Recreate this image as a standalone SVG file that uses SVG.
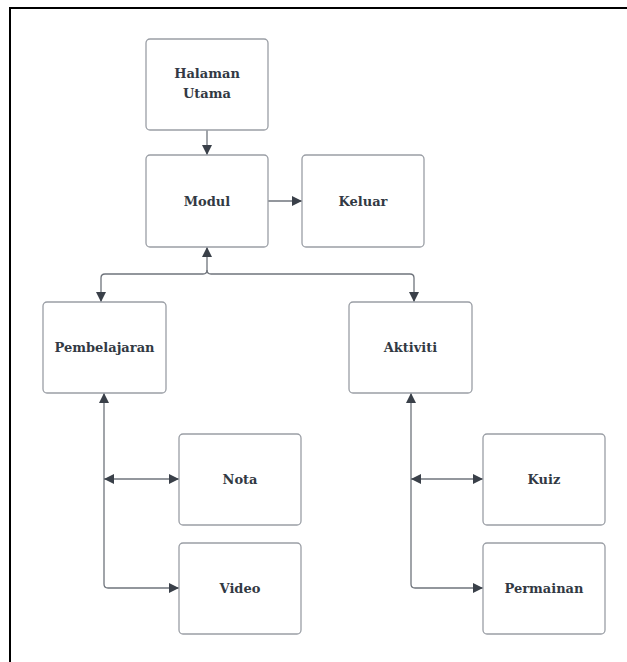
<svg xmlns="http://www.w3.org/2000/svg" width="627" height="662" viewBox="0 0 627 662">
<style>
.box{fill:#ffffff;stroke:#9a9ea5;stroke-width:1.3}
.lbl{font-family:"DejaVu Serif",serif;font-weight:bold;font-size:13px;fill:#323943;text-anchor:middle;dominant-baseline:central}
.con{fill:none;stroke:#6f747c;stroke-width:1.3}
</style>
<defs>
<marker id="ah" viewBox="0 0 10 10" refX="10" refY="5" markerWidth="10" markerHeight="10" markerUnits="userSpaceOnUse" orient="auto-start-reverse">
<path d="M0,0 L10,5 L0,10 Z" fill="#3a4049"/>
</marker>
</defs>
<rect width="627" height="662" fill="#ffffff"/>
<path d="M10,662 V8 H627" fill="none" stroke="#000000" stroke-width="2"/>
<g id="connectors">
<path class="con" d="M207,130 V155" marker-end="url(#ah)"/>
<path class="con" d="M268,201 H302" marker-end="url(#ah)"/>
<path class="con" d="M207,247 V270 Q207,274 203,274 H105 Q101,274 101,278 V302" marker-start="url(#ah)" marker-end="url(#ah)"/>
<path class="con" d="M207,270 Q207,274 211,274 H410 Q414,274 414,278 V302" marker-end="url(#ah)"/>
<path class="con" d="M104,393 V584 Q104,588 108,588 H179" marker-start="url(#ah)" marker-end="url(#ah)"/>
<path class="con" d="M104,479 H179" marker-start="url(#ah)" marker-end="url(#ah)"/>
<path class="con" d="M411,393 V584 Q411,588 415,588 H483" marker-start="url(#ah)" marker-end="url(#ah)"/>
<path class="con" d="M411,479 H483" marker-start="url(#ah)" marker-end="url(#ah)"/>
</g>
<g id="halaman-utama"><rect class="box" x="146" y="39" width="122" height="91" rx="4"/><text class="lbl" x="207" y="73">Halaman</text><text class="lbl" x="207" y="93">Utama</text></g>
<g id="modul"><rect class="box" x="146" y="155" width="122" height="92" rx="4"/><text class="lbl" x="207" y="201">Modul</text></g>
<g id="keluar"><rect class="box" x="302" y="155" width="122" height="92" rx="4"/><text class="lbl" x="363" y="201">Keluar</text></g>
<g id="pembelajaran"><rect class="box" x="43" y="302" width="123" height="91" rx="4"/><text class="lbl" x="104.5" y="347">Pembelajaran</text></g>
<g id="aktiviti"><rect class="box" x="349" y="302" width="123" height="91" rx="4"/><text class="lbl" x="410.5" y="347">Aktiviti</text></g>
<g id="nota"><rect class="box" x="179" y="434" width="122" height="91" rx="4"/><text class="lbl" x="240" y="479">Nota</text></g>
<g id="video"><rect class="box" x="179" y="543" width="122" height="91" rx="4"/><text class="lbl" x="240" y="588">Video</text></g>
<g id="kuiz"><rect class="box" x="483" y="434" width="122" height="91" rx="4"/><text class="lbl" x="544" y="479">Kuiz</text></g>
<g id="permainan"><rect class="box" x="483" y="543" width="122" height="91" rx="4"/><text class="lbl" x="544" y="588">Permainan</text></g>
</svg>
